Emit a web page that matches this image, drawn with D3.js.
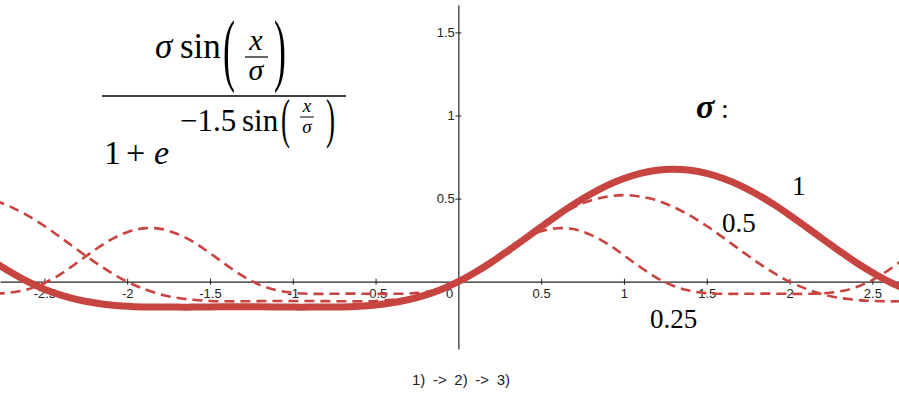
<!DOCTYPE html>
<head>
  <meta charset="utf-8">
  <script src="https://d3js.org/d3.v7.min.js"></script>
  <style>
    body { margin: 0; background: #fff; }
    svg { display: block; }
    .tick text { font-family: "Liberation Sans", Arial, sans-serif; font-size: 13px; fill: #222; }
    .math { font-family: "Liberation Serif", "Times New Roman", serif; fill: #000; }
  </style>
</head>

<body>
<div id="chart"></div>
<script>
// sample positions (x)
var xs = [-2.8, -2.7, -2.6, -2.5, -2.4, -2.3, -2.2, -2.1, -2.0, -1.9, -1.8, -1.7, -1.6, -1.5,
          -1.4, -1.3, -1.2, -1.1, -1.0, -0.9, -0.8, -0.7, -0.6, -0.5, -0.4, -0.3, -0.2, -0.1,
          0, 0.1, 0.2, 0.3, 0.4, 0.5, 0.6, 0.7, 0.8, 0.9, 1.0, 1.1, 1.2, 1.3, 1.4, 1.5,
          1.6, 1.7, 1.8, 1.9, 2.0, 2.1, 2.2, 2.3, 2.4, 2.5, 2.6, 2.7];

// sigma = 1 (thick line)
var sigma1 = [0.117, 0.055, 0.000, -0.045, -0.081, -0.108, -0.127, -0.140, -0.148, -0.152, -0.153, -0.153, -0.153, -0.152,
              -0.151, -0.151, -0.151, -0.152, -0.153, -0.153, -0.153, -0.152, -0.148, -0.140, -0.127, -0.108, -0.081, -0.045,
              0, 0.055, 0.117, 0.186, 0.257, 0.330, 0.401, 0.468, 0.528, 0.580, 0.621, 0.652, 0.671, 0.677, 0.671, 0.652,
              0.621, 0.580, 0.528, 0.468, 0.401, 0.330, 0.257, 0.186, 0.117, 0.055, 0.000, -0.045];

// sigma = 0.5 (dashed)
var sigma05 = [0.489, 0.449, 0.397, 0.335, 0.265, 0.192, 0.121, 0.056, 0, -0.043, -0.076, -0.097, -0.109, -0.116,
               -0.118, -0.118, -0.117, -0.116, -0.116, -0.116, -0.117, -0.118, -0.118, -0.116, -0.109, -0.097, -0.076, -0.043,
               0, 0.056, 0.121, 0.192, 0.265, 0.335, 0.397, 0.449, 0.489, 0.512, 0.521, 0.512, 0.489, 0.449, 0.397, 0.335,
               0.265, 0.192, 0.121, 0.056, 0, -0.043, -0.076, -0.097, -0.109, -0.116, -0.118, -0.118];

// sigma = 0.25 (dashed)
var sigma025 = [-0.072, -0.065, -0.046, -0.008, 0.047, 0.116, 0.188, 0.252, 0.298, 0.321, 0.318, 0.289, 0.239, 0.172,
                0.100, 0.033, -0.019, -0.051, -0.067, -0.073, -0.073, -0.072, -0.072, -0.073, -0.073, -0.071, -0.062, -0.040,
                0, 0.059, 0.129, 0.201, 0.262, 0.304, 0.322, 0.315, 0.282, 0.228, 0.159, 0.087, 0.022, -0.026, -0.055, -0.069,
                -0.073, -0.073, -0.072, -0.072, -0.073, -0.073, -0.070, -0.059, -0.034, 0.010, 0.071, 0.143];

var xTicks = [-2.5, -2, -1.5, -1, -0.5, 0.5, 1, 1.5, 2, 2.5];
var yTicks = [0.5, 1, 1.5];
var seriesLabels = ["1", "0.5", "0.25"];

var width = 899, height = 402;
var red = "#c74440";

var svg = d3.select("#chart").append("svg")
    .attr("width", width)
    .attr("height", height);

// scales (same unit length on both axes)
var x = d3.scaleLinear().domain([-2.768, 2.661]).range([0, width]);
var y = d3.scaleLinear().domain([-0.405, 1.665]).range([349, 5]);

// x axis
var gx = svg.append("g")
    .attr("transform", "translate(0," + y(0) + ")")
    .call(d3.axisBottom(x)
        .tickValues(xTicks)
        .tickSizeInner(3)
        .tickSizeOuter(0)
        .tickFormat(function(d) { return String(d); }));
gx.select(".domain").attr("stroke", "#222").attr("stroke-width", 1.2);
gx.selectAll(".tick line").attr("y1", -3).attr("y2", 3).attr("stroke", "#222");
gx.selectAll(".tick text").attr("y", 7).attr("fill", "#222");

// y axis
var gy = svg.append("g")
    .attr("transform", "translate(" + x(0) + ",0)")
    .call(d3.axisLeft(y)
        .tickValues(yTicks)
        .tickSizeInner(3)
        .tickSizeOuter(0)
        .tickFormat(function(d) { return String(d); }));
gy.select(".domain").attr("stroke", "#222").attr("stroke-width", 1.2);
gy.selectAll(".tick line").attr("x1", -3).attr("x2", 3).attr("stroke", "#222");
gy.selectAll(".tick text").attr("x", -3.5).attr("fill", "#222");

// origin label
svg.append("text")
    .attr("x", x(0) - 5)
    .attr("y", y(0) + 16)
    .attr("text-anchor", "end")
    .style("font-family", "Liberation Sans, Arial, sans-serif")
    .style("font-size", "13px")
    .style("fill", "#222")
    .text("0");

// curves
var line = d3.line()
    .x(function(d) { return x(d[0]); })
    .y(function(d) { return y(d[1]); })
    .curve(d3.curveCatmullRom);

function pairs(ys) {
    return xs.map(function(v, i) { return [v, ys[i]]; });
}

svg.append("path")
    .datum(pairs(sigma025))
    .attr("d", line)
    .attr("fill", "none")
    .attr("stroke", red)
    .attr("stroke-width", 2.6)
    .attr("stroke-dasharray", "10,6");

svg.append("path")
    .datum(pairs(sigma05))
    .attr("d", line)
    .attr("fill", "none")
    .attr("stroke", red)
    .attr("stroke-width", 2.6)
    .attr("stroke-dasharray", "10,6");

svg.append("path")
    .datum(pairs(sigma1))
    .attr("d", line)
    .attr("fill", "none")
    .attr("stroke", red)
    .attr("stroke-width", 7);

// formula
var m = svg.append("g").attr("class", "math");

function mtext(tx, ty, size, str, italic, anchor) {
    return m.append("text")
        .attr("x", tx)
        .attr("y", ty)
        .attr("text-anchor", anchor || "start")
        .style("font-size", size + "px")
        .style("font-style", italic ? "italic" : "normal")
        .text(str);
}

function paren(tx, ty, size, str, sx) {
    return m.append("text")
        .attr("transform", "translate(" + tx + "," + ty + ") scale(" + sx + ",1)")
        .style("font-size", size + "px")
        .text(str);
}

// numerator
mtext(155, 58, 35, "σ", true);
mtext(180, 58, 35, "sin", false);
paren(223, 76, 80, "(", 0.45);
mtext(256, 50, 30, "x", true, "middle");
m.append("line").attr("x1", 245).attr("x2", 268).attr("y1", 57).attr("y2", 57)
    .attr("stroke", "#000").attr("stroke-width", 1.2);
mtext(256, 80, 30, "σ", true, "middle");
paren(274, 76, 80, ")", 0.45);

// main fraction bar
m.append("line").attr("x1", 102).attr("x2", 346).attr("y1", 96).attr("y2", 96)
    .attr("stroke", "#000").attr("stroke-width", 1.3);

// denominator
mtext(104, 164, 34, "1", false);
mtext(126, 164, 34, "+", false);
mtext(154, 164, 34, "e", true);
mtext(180, 131, 31, "−1.5", false);
mtext(242, 131, 31, "sin", false);
paren(281, 137, 54, "(", 0.5);
mtext(307, 112, 19, "x", true, "middle");
m.append("line").attr("x1", 300).attr("x2", 314).attr("y1", 117).attr("y2", 117)
    .attr("stroke", "#000").attr("stroke-width", 1);
mtext(307, 133, 19, "σ", true, "middle");
paren(326, 137, 54, ")", 0.5);

// legend title and curve labels
m.append("text")
    .attr("x", 696)
    .attr("y", 118)
    .style("font-size", "34px")
    .style("font-style", "italic")
    .style("font-weight", "bold")
    .text("σ");
mtext(721, 118, 28, ":", false);

var labelPos = [[792, 195], [722, 232], [650, 328]];
m.selectAll(".slabel")
    .data(seriesLabels)
    .enter()
    .append("text")
    .attr("class", "slabel")
    .attr("x", function(d, i) { return labelPos[i][0]; })
    .attr("y", function(d, i) { return labelPos[i][1]; })
    .style("font-size", "27px")
    .text(function(d) { return d; });

// caption
svg.append("text")
    .attr("x", 461)
    .attr("y", 385)
    .attr("text-anchor", "middle")
    .style("font-family", "Liberation Sans, Arial, sans-serif")
    .style("font-size", "15px")
    .style("word-spacing", "3.5px")
    .style("fill", "#222")
    .text("1) -> 2) -> 3)");
</script>
</body>
</html>
